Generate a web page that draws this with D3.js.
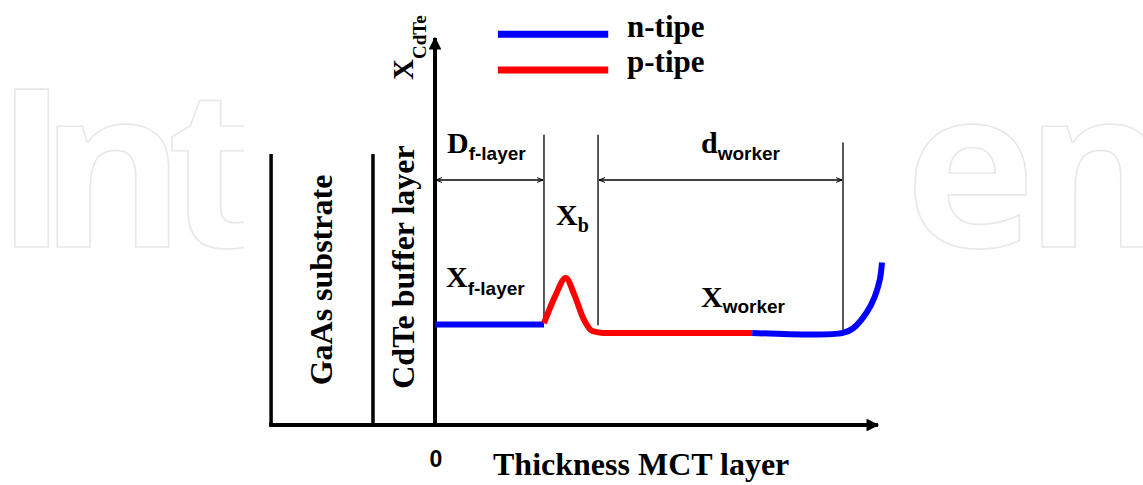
<!DOCTYPE html>
<html><head><meta charset="utf-8">
<script src="https://cdn.jsdelivr.net/npm/d3@7/dist/d3.min.js"></script>
<style>
html,body{margin:0;padding:0;background:#fff;}
svg{display:block;}
</style></head>
<body>
<svg id="chart" width="1143" height="485"></svg>
<script>
// ---------- data (arbitrary units: thickness 0..100, X_CdTe 0..100) ----------
const layerNames   = ["GaAs substrate", "CdTe buffer layer"];
const layerEdges   = [-37, -14];          // left boundaries of substrate / buffer
const layerTop     = 70;                  // height of the boundary lines
const markerX      = [24.6, 36.8, 92.1];  // thin vertical marker lines
const markerTop    = [75, 75, 73];
const markerBottom = [26.4, 25.8, 23.3];
const spanFrom     = [0, 36.8];
const spanTo       = [24.6, 92.1];
const spanLevel    = 63.3;
const legendLabels = ["n-tipe", "p-tipe"];
const legendColors = ["#0000ff", "#ff0000"];
const zeroTick     = ["0"];
// composition profile segments
const nLayer1 = [[0, 26], [24.6, 26]];
const pLayer  = [[24.6, 26.3], [27.2, 33.5], [29.5, 38], [31.5, 33.5], [33.5, 27.5], [35.5, 24.3], [38, 23.8], [42, 23.8], [71.6, 23.8]];
const nLayer2 = [[71.6, 23.8], [92.1, 23.8], [94.4, 25], [97.4, 29], [99.2, 33], [100.4, 37.5], [100.9, 42]];
const watermarkLetters = ["I", "n", "t", "e", "n"];

// ---------- scales ----------
const x = d3.scaleLinear().domain([0, 100]).range([435, 878]);
const y = d3.scaleLinear().domain([0, 100]).range([425, 38]);

const svg = d3.select("#chart");
const serif = "'Liberation Serif','Times New Roman',serif";
const sans  = "'Liberation Sans',Arial,sans-serif";

// ---------- watermark ----------
const defs = svg.append("defs");
defs.append("clipPath").attr("id", "wmclip").append("rect")
  .attr("x", 0).attr("y", 0).attr("width", 244).attr("height", 485);
const wmX = [-5, 40, 167, 905, 1025];
const wm = svg.append("g");
watermarkLetters.forEach((ch, i) => {
  wm.append("text")
    .attr("x", wmX[i]).attr("y", 247)
    .attr("clip-path", i < 3 ? "url(#wmclip)" : null)
    .style("font-family", "'Open Sans',sans-serif")
    .style("font-weight", 700)
    .style("font-size", "221px")
    .attr("fill", "none")
    .attr("stroke", "#e8e8e8")
    .attr("stroke-width", 1.6)
    .text(ch);
});

// ---------- arrow markers ----------
defs.append("marker").attr("id", "bigArrow")
  .attr("viewBox", "0 0 10 10").attr("refX", 9).attr("refY", 5)
  .attr("markerWidth", 4).attr("markerHeight", 3.2)
  .attr("orient", "auto").attr("markerUnits", "strokeWidth")
  .append("path").attr("d", "M0,0 L10,5 L0,10 Z").attr("fill", "#000");
defs.append("marker").attr("id", "smallHead")
  .attr("viewBox", "0 0 10 10").attr("refX", 9.5).attr("refY", 5)
  .attr("markerWidth", 7).attr("markerHeight", 7)
  .attr("orient", "auto-start-reverse").attr("markerUnits", "userSpaceOnUse")
  .append("path").attr("d", "M1,1.5 L9.5,5 L1,8.5").attr("fill", "none")
  .attr("stroke", "#000").attr("stroke-width", 1.4);

// ---------- layer boundary lines ----------
svg.selectAll(".layerEdge").data(layerEdges).join("line")
  .attr("x1", d => x(d)).attr("x2", d => x(d))
  .attr("y1", y(0)).attr("y2", y(layerTop))
  .attr("stroke", "#000").attr("stroke-width", 3.5);

// layer names (rotated)
const layerMid = [(layerEdges[0] + layerEdges[1]) / 2, (layerEdges[1] + 0) / 2];
const layerCenterY = [280, 267];
svg.selectAll(".layerName").data(layerNames).join("text")
  .attr("transform", (d, i) => `translate(${x(layerMid[i]) + 10},${layerCenterY[i]}) rotate(-90)`)
  .attr("text-anchor", "middle")
  .style("font-family", serif).style("font-weight", "bold").style("font-size", "32px")
  .attr("fill", "#000")
  .text(d => d);

// ---------- axes ----------
svg.append("line")
  .attr("x1", x(-37) - 2).attr("x2", x(100))
  .attr("y1", y(0)).attr("y2", y(0))
  .attr("stroke", "#000").attr("stroke-width", 4)
  .attr("marker-end", "url(#bigArrow)");
svg.append("line")
  .attr("x1", x(0)).attr("x2", x(0))
  .attr("y1", y(0) + 2).attr("y2", y(100))
  .attr("stroke", "#000").attr("stroke-width", 4)
  .attr("marker-end", "url(#bigArrow)");

svg.selectAll(".zero").data(zeroTick).join("text")
  .attr("x", x(0) + 1).attr("y", 467)
  .attr("text-anchor", "middle")
  .style("font-family", sans).style("font-weight", "bold").style("font-size", "23px")
  .text(d => d);

svg.append("text")
  .attr("x", 493).attr("y", 475)
  .style("font-family", serif).style("font-weight", "bold").style("font-size", "32px")
  .text("Thickness MCT layer");

// y axis title X_CdTe
const yt = svg.append("text")
  .attr("transform", "translate(413,80) rotate(-90)")
  .style("font-family", serif).style("font-weight", "bold").style("font-size", "29px");
yt.append("tspan").text("X");
yt.append("tspan").attr("dy", 13).style("font-size", "19px").text("CdTe");

// ---------- marker lines ----------
svg.selectAll(".marker").data(markerX).join("line")
  .attr("x1", d => x(d)).attr("x2", d => x(d))
  .attr("y1", (d, i) => y(markerBottom[i])).attr("y2", (d, i) => y(markerTop[i]))
  .attr("stroke", "#111").attr("stroke-width", 1.4);

// span arrows
svg.selectAll(".span").data(spanFrom).join("line")
  .attr("x1", d => x(d) + 1).attr("x2", (d, i) => x(spanTo[i]) - 1)
  .attr("y1", y(spanLevel)).attr("y2", y(spanLevel))
  .attr("stroke", "#000").attr("stroke-width", 1.4)
  .attr("marker-start", "url(#smallHead)")
  .attr("marker-end", "url(#smallHead)");

// ---------- profile ----------
const line = d3.line().x(d => x(d[0])).y(d => y(d[1])).curve(d3.curveMonotoneX);
svg.append("path").datum(nLayer1).attr("d", line)
  .attr("fill", "none").attr("stroke", legendColors[0]).attr("stroke-width", 6);
svg.append("path").datum(pLayer).attr("d", line)
  .attr("fill", "none").attr("stroke", legendColors[1]).attr("stroke-width", 6)
  .attr("stroke-linejoin", "round");
svg.append("path").datum(nLayer2).attr("d", d3.line().x(d => x(d[0])).y(d => y(d[1])).curve(d3.curveCatmullRom))
  .attr("fill", "none").attr("stroke", legendColors[0]).attr("stroke-width", 6);

// ---------- labels with subscripts ----------
function subLabel(px, py, main, sub, subFont, subSize, dy) {
  const t = svg.append("text").attr("x", px).attr("y", py)
    .style("font-family", serif).style("font-weight", "bold").style("font-size", "30px")
    .attr("fill", "#000");
  t.append("tspan").text(main);
  t.append("tspan").attr("dy", dy).style("font-family", subFont)
    .style("font-size", subSize + "px").text(sub);
}
subLabel(447, 153, "D", "f-layer", sans, 19, 7);
subLabel(701, 153, "d", "worker", sans, 19, 7);
subLabel(556, 225, "X", "b", serif, 20, 7);
subLabel(446, 287, "X", "f-layer", sans, 19, 8);
subLabel(701, 307, "X", "worker", sans, 19, 6);

// ---------- legend ----------
const legY = [101, 91.7];
svg.selectAll(".legLine").data(legendLabels).join("line")
  .attr("x1", x(14.2)).attr("x2", x(39.1))
  .attr("y1", (d, i) => y(legY[i])).attr("y2", (d, i) => y(legY[i]))
  .attr("stroke", (d, i) => legendColors[i]).attr("stroke-width", 7);
svg.selectAll(".legText").data(legendLabels).join("text")
  .attr("x", 627).attr("y", (d, i) => [37, 72][i])
  .style("font-family", serif).style("font-weight", "bold").style("font-size", "31px")
  .text(d => d);
</script>
</body></html>
